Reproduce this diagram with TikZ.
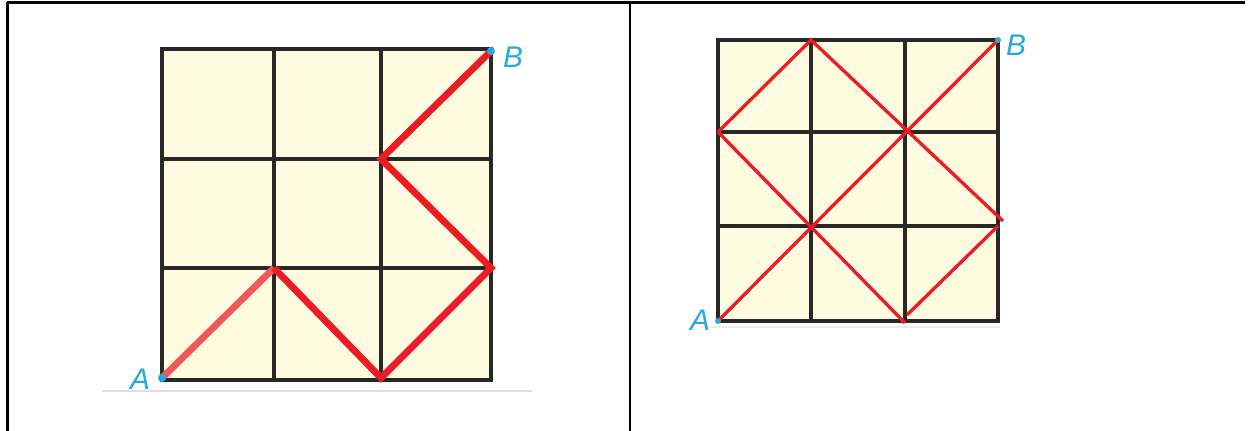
\documentclass[tikz,border=0pt]{standalone}
\usepackage{fontspec}
\newfontfamily\lblfont{Liberation Sans}
\definecolor{cream}{RGB}{255,251,224}
\definecolor{gridc}{RGB}{40,40,38}
\definecolor{redc}{RGB}{236,28,36}
\definecolor{lightred}{RGB}{240,88,90}
\definecolor{bluec}{RGB}{38,168,224}
\tikzset{
  gridline/.style={draw=gridc, line width=2.1pt},
  border/.style={draw=black, line width=1.4pt},
  thickred/.style={draw=redc, line width=3.9pt, line join=miter},
  thinred/.style={draw=redc, line width=1.9pt},
  ptdot/.style={fill=bluec},
  ptlabel/.style={text=bluec, font=\lblfont\itshape\fontsize{17}{17}\selectfont, inner sep=0pt}
}
\begin{document}
\begin{tikzpicture}[x=0.02cm,y=-0.02cm]
\useasboundingbox (0,0) rectangle (1252,431);
% table borders
\draw[border] (7,2.5) -- (1245,2.5);
\draw[border] (7.5,2) -- (7.5,431);
\draw[border] (630,2) -- (630,431);

% faint scan lines
\draw[gray!25, line width=0.6pt] (102,391) -- (532,391);
\draw[gray!15, line width=0.6pt] (700,327) -- (1000,327);

% ---------- left grid ----------
\fill[cream] (162,49) rectangle (491,380);
\foreach \x in {162,274,381,491} \draw[gridline] (\x,49) -- (\x,380);
\foreach \y in {49,159,268,380} \draw[gridline] (162,\y) -- (491,\y);
\draw[gridline, line cap=rect] (162,49) rectangle (491,380);
\coordinate (LA) at (162,378);
\coordinate (L1) at (274,268);
\coordinate (L2) at (381,378);
\coordinate (L3) at (491,268);
\coordinate (L4) at (381,159);
\coordinate (LB) at (491,51);
\draw[draw=lightred, line width=3.9pt] (LA) -- (L1);
\draw[thickred] (L1) -- (L2) -- (L3) -- (L4) -- (LB);
\fill[ptdot] (LA) circle (4);
\fill[ptdot] (LB) circle (4);
\node[ptlabel] (lblA) at (140,379) {A};
\node[ptlabel] (lblB) at (513,57) {B};

% ---------- right grid ----------
\fill[cream] (718,40) rectangle (998,321);
\foreach \x in {718,811,905,998} \draw[gridline] (\x,40) -- (\x,321);
\foreach \y in {40,132,226,321} \draw[gridline] (718,\y) -- (998,\y);
\draw[gridline, line cap=rect] (718,40) rectangle (998,321);
\coordinate (RA) at (718,321);
\coordinate (RB) at (998,40);
\coordinate (R02) at (718,132);
\coordinate (R13) at (811,40);
\coordinate (R31) at (1003,221);
\coordinate (R31b) at (998,226);
\coordinate (R20) at (905,323);
\coordinate (R20b) at (907,315);
\draw[thinred] (RA) -- (RB);
\draw[thinred] (R02) -- (R13) -- (R31);
\draw[thinred] (R02) -- (R20);
\draw[thinred] (R20b) -- (R31b);
\fill[ptdot] (RA) circle (3);
\fill[ptdot] (RB) circle (3);
\node[ptlabel] (lblRA) at (700,320) {A};
\node[ptlabel] (lblRB) at (1016,45) {B};
\end{tikzpicture}
\end{document}
